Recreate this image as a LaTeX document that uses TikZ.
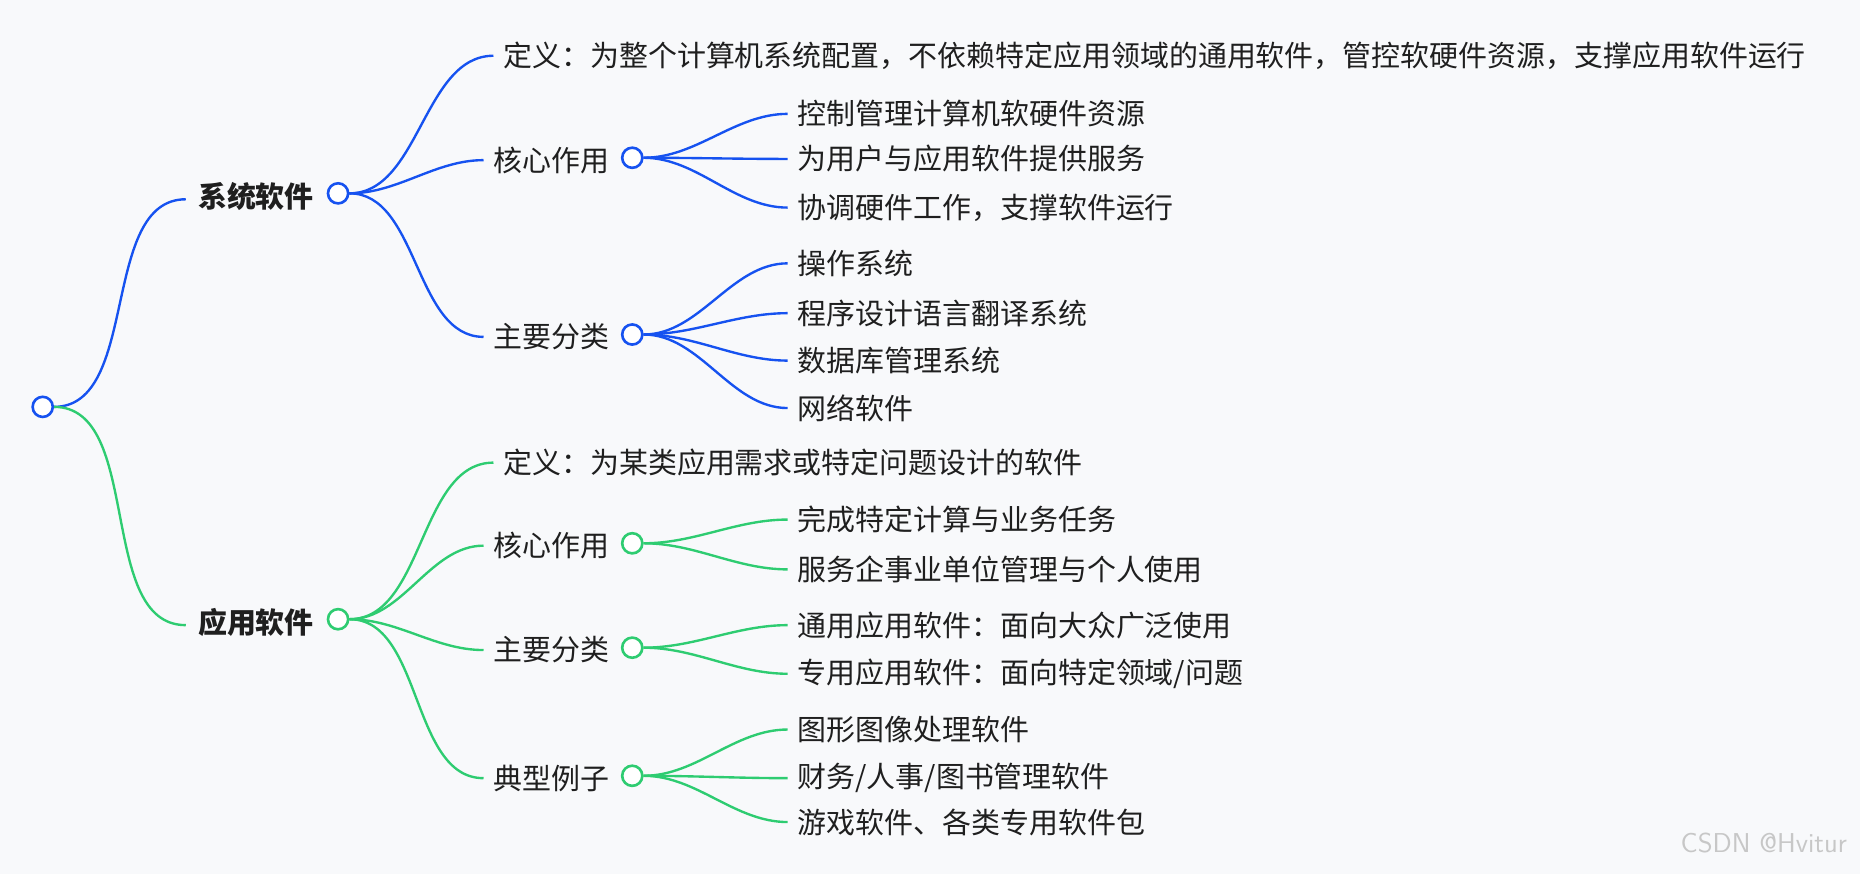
\documentclass[tikz,border=0pt]{standalone}
\usepackage{fontspec}
\setmainfont{Noto Sans CJK SC}
\definecolor{bl}{HTML}{1652F0}
\definecolor{gr}{HTML}{2ECC71}
\definecolor{bg}{HTML}{F8F9FB}
\definecolor{tx}{HTML}{1F1F1F}
\begin{document}
\begin{tikzpicture}[x=0.5pt,y=-0.5pt,
  dot/.style={circle,draw=#1,line width=1.1pt,fill=white,minimum size=8.5pt,inner sep=0pt},
  txt/.style={anchor=west,inner sep=0pt,inner xsep=4pt,text=tx,font=\fontsize{12.2}{14}\selectfont},
  big/.style={anchor=east,inner sep=0pt,inner xsep=5pt,text=tx,font=\fontsize{12.2}{14}\selectfont\bfseries},
  br/.style={draw=#1,line width=1pt,out=0,in=180,looseness=0.9}]
\fill[bg] (0,0) rectangle (1568,737);
\useasboundingbox (0,0) rectangle (1568,737);
\node[dot=bl] (root) at (36,343) {};
% system
\node[dot=bl] (s) at (285,163) {};
\node[big] (sl) at (275,166) {系统软件};
\draw[br=bl] (root.east) to ([yshift=-1pt]sl.west);
\node[txt] (s1) at (416,47) {定义：为整个计算机系统配置，不依赖特定应用领域的通用软件，管控软硬件资源，支撑应用软件运行};
\node[txt,anchor=east] (s2l) at (522,135) {核心作用};
\node[dot=bl] (s2) at (533,133) {};
\node[txt,anchor=east] (s3l) at (522,284) {主要分类};
\node[dot=bl] (s3) at (533,282) {};
\draw[br=bl] (s.east) to (s1.west);
\draw[br=bl] (s.east) to (s2l.west);
\draw[br=bl] (s.east) to (s3l.west);
\foreach \t/\y/\n in {{控制管理计算机软硬件资源}/96/a,{为用户与应用软件提供服务}/134/b,{协调硬件工作，支撑软件运行}/175/c}{
  \node[txt] (sc\n) at (664,\y) {\t};
  \draw[br=bl] (s2.east) to (sc\n.west);}
\foreach \t/\y/\n in {{操作系统}/222/a,{程序设计语言翻译系统}/264/b,{数据库管理系统}/304/c,{网络软件}/344/d}{
  \node[txt] (sm\n) at (664,\y) {\t};
  \draw[br=bl] (s3.east) to (sm\n.west);}
% application
\node[dot=gr] (a) at (285,522) {};
\node[big] (al) at (275,525) {应用软件};
\draw[br=gr] (root.east) to ([yshift=-1pt]al.west);
\node[txt] (a1) at (416,390) {定义：为某类应用需求或特定问题设计的软件};
\node[txt,anchor=east] (a2l) at (522,460) {核心作用};
\node[dot=gr] (a2) at (533,458) {};
\node[txt,anchor=east] (a3l) at (522,548) {主要分类};
\node[dot=gr] (a3) at (533,546) {};
\node[txt,anchor=east] (a4l) at (522,656) {典型例子};
\node[dot=gr] (a4) at (533,654) {};
\draw[br=gr] (a.east) to (a1.west);
\draw[br=gr] (a.east) to (a2l.west);
\draw[br=gr] (a.east) to (a3l.west);
\draw[br=gr] (a.east) to (a4l.west);
\foreach \t/\y/\n in {{完成特定计算与业务任务}/438/a,{服务企事业单位管理与个人使用}/480/b}{
  \node[txt] (ac\n) at (664,\y) {\t};
  \draw[br=gr] (a2.east) to (ac\n.west);}
\foreach \t/\y/\n in {{通用应用软件：面向大众广泛使用}/527/a,{专用应用软件：面向特定领域/问题}/568/b}{
  \node[txt] (am\n) at (664,\y) {\t};
  \draw[br=gr] (a3.east) to (am\n.west);}
\foreach \t/\y/\n in {{图形图像处理软件}/615/a,{财务/人事/图书管理软件}/656/b,{游戏软件、各类专用软件包}/693/c}{
  \node[txt] (ae\n) at (664,\y) {\t};
  \draw[br=gr] (a4.east) to (ae\n.west);}
\node[anchor=east,text=black!22,font=\fontsize{11.5}{14}\selectfont\sffamily] (wm) at (1564,711) {CSDN @Hvitur};
\end{tikzpicture}
\end{document}
